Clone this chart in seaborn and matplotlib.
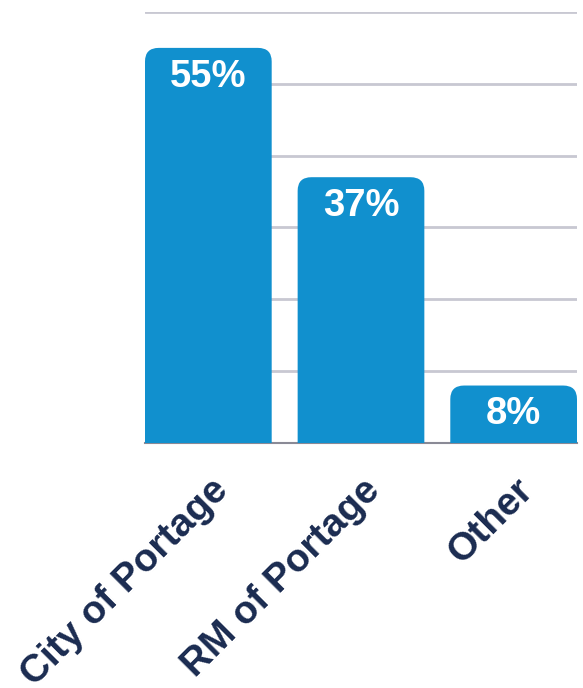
import matplotlib
matplotlib.use("Agg")
import matplotlib.pyplot as plt
import matplotlib.transforms as mtransforms
import seaborn as sns
import pandas as pd
from matplotlib.patches import FancyBboxPatch

# data
categories = ["City of Portage", "RM of Portage", "Other"]
shares = [55, 37, 8]
value_labels = ["55%", "37%", "8%"]

bar_color = "#1190CE"
text_navy = "#1A2B50"
grid_color = "#C8C8D2"

sns.set_theme(style="white")
plt.rcParams["font.family"] = ["Liberation Sans", "DejaVu Sans"]

df = pd.DataFrame({"category": categories, "share": shares})

fig = plt.figure(figsize=(5.83, 6.88), dpi=100)
ax = fig.add_axes([0.2487, 0.3561, 0.9897 - 0.2487, 0.9826 - 0.3561])

width = 0.83
sns.barplot(data=df, x="category", y="share", color=bar_color, width=width,
            saturation=1, ax=ax, zorder=3)

# swap plain rectangles for ones with rounded tops (bottom is clipped at 0)
rad_x = 0.09
aspect = 21.0
for p in list(ax.patches):
    x0, w, h = p.get_x(), p.get_width(), p.get_height()
    p.remove()
    rb = FancyBboxPatch((x0 + rad_x, -10 + rad_x * aspect),
                        w - 2 * rad_x, h + 10 - 2 * rad_x * aspect,
                        boxstyle=f"round,pad={rad_x}", mutation_aspect=aspect,
                        facecolor=bar_color, edgecolor="none", zorder=3,
                        clip_on=True)
    ax.add_patch(rb)

ax.set_xlim(-width / 2, len(categories) - 1 + width / 2)
ax.set_ylim(0, 60)
ax.set_yticks(range(0, 61, 10))
ax.yaxis.grid(True, color=grid_color, linewidth=2, zorder=0)
ax.set_axisbelow(True)
ax.tick_params(left=False, bottom=False, labelleft=False)
for s in ["top", "right", "left"]:
    ax.spines[s].set_visible(False)
ax.spines["bottom"].set_color("#8A8A96")
ax.spines["bottom"].set_linewidth(1.5)
ax.spines["bottom"].set_zorder(2)

for i, (v, lab) in enumerate(zip(shares, value_labels)):
    ax.text(i, v - 1.5, lab, ha="center", va="top", color="white",
            fontsize=27.5, fontweight="bold", zorder=5)

ax.set_xlabel("")
ax.set_ylabel("")
ax.set_xticks(range(len(categories)))
ax.set_xticklabels(categories, rotation=45, ha="right", va="center",
                   rotation_mode="anchor", fontsize=28, fontweight="bold",
                   color=text_navy)
ax.tick_params(axis="x", pad=14)
shift = mtransforms.ScaledTranslation(14 / 100, -14 / 100, fig.dpi_scale_trans)
for t in ax.get_xticklabels():
    t.set_transform(t.get_transform() + shift)

fig.savefig("out.png", dpi=100)
